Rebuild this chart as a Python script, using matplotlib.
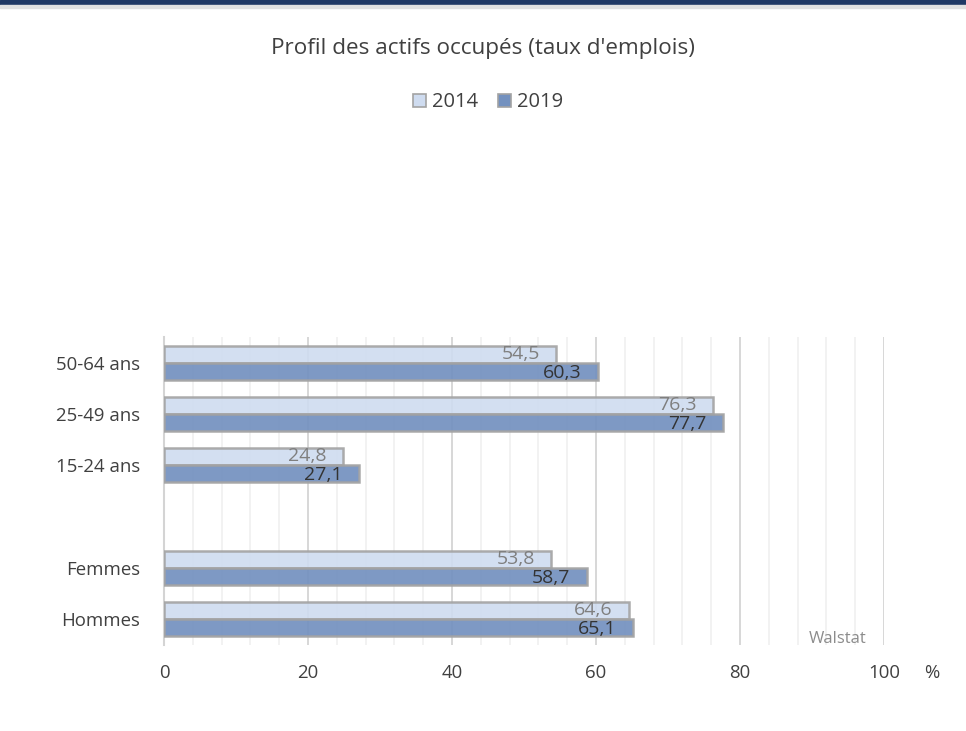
import matplotlib.pyplot as plt
from matplotlib.patches import Rectangle
from matplotlib.ticker import MultipleLocator

plt.rcParams['font.family'] = ['Open Sans', 'DejaVu Sans']

categories = ["50-64 ans", "25-49 ans", "15-24 ans", "", "Femmes", "Hommes"]
val_2014 = [54.5, 76.3, 24.8, None, 53.8, 64.6]
val_2019 = [60.3, 77.7, 27.1, None, 58.7, 65.1]
labels_2014 = ["54,5", "76,3", "24,8", "", "53,8", "64,6"]
labels_2019 = ["60,3", "77,7", "27,1", "", "58,7", "65,1"]

c2014 = "#cfdcf0"
c2019 = "#7391bf"
edge = "#a3a3a3"

fig = plt.figure(figsize=(9.66, 7.31), dpi=100)
ax = fig.add_axes([0.1698, 0.1176, 0.7453, 0.4214])

# top border of the original frame
fig.patches.append(Rectangle((0, 0.995), 1, 0.005, transform=fig.transFigure,
                             color="#1f3864", zorder=5))
fig.patches.append(Rectangle((0, 0.989), 1, 0.004, transform=fig.transFigure,
                             color="#e0e0e0", zorder=5))

h = 0.33
for i, cat in enumerate(categories):
    if val_2014[i] is None:
        continue
    ax.barh(i - h / 2, val_2014[i], height=h, color=c2014, edgecolor=edge,
            linewidth=1.8, alpha=0.9, zorder=3)
    ax.barh(i + h / 2, val_2019[i], height=h, color=c2019, edgecolor=edge,
            linewidth=1.8, alpha=0.92, zorder=3)
    ax.text(val_2014[i] - 2.3, i - h / 2 - 0.01, labels_2014[i], ha="right",
            va="center", fontsize=14, color="#7f7f7f", zorder=4)
    ax.text(val_2019[i] - 2.3, i + h / 2 + 0.03, labels_2019[i], ha="right",
            va="center", fontsize=14, color="#333333", zorder=4)

ax.set_ylim(5.5, -0.5)
ax.set_xlim(0, 100)
ax.set_yticks(range(len(categories)))
ax.set_yticklabels(categories)
ax.xaxis.set_major_locator(MultipleLocator(20))
ax.xaxis.set_minor_locator(MultipleLocator(4))
ax.grid(axis="x", which="major", color="#d4d4d4", linewidth=1.3, zorder=0)
ax.grid(axis="x", which="minor", color="#efefef", linewidth=1.1, zorder=0)
ax.set_axisbelow(True)
ax.tick_params(axis="both", which="both", length=0, labelsize=13.4,
               labelcolor="#404040")
ax.tick_params(axis="y", pad=17)
ax.tick_params(axis="x", pad=14)
for s in ["top", "right", "bottom"]:
    ax.spines[s].set_visible(False)
ax.spines["left"].set_color("#d4d4d4")
ax.spines["left"].set_linewidth(1.5)

ax.text(93.6, 5.53, "Walstat", ha="center", va="bottom", fontsize=12,
        color="#8c8c8c")
fig.text(0.965, 0.08, "%", ha="center", va="center", fontsize=13.4,
         color="#404040")

fig.text(0.5, 0.934, "Profil des actifs occupés (taux d'emplois)", ha="center",
         va="center", fontsize=16.2, color="#404040")

handles = [Rectangle((0, 0), 1, 1, facecolor=c2014, edgecolor=edge, linewidth=1.2),
           Rectangle((0, 0), 1, 1, facecolor=c2019, edgecolor=edge, linewidth=1.2)]
fig.legend(handles, ["2014", "2019"], loc="center", bbox_to_anchor=(0.505, 0.86),
           ncol=2, frameon=False, fontsize=14.5, handlelength=0.65,
           handleheight=0.65, handletextpad=0.3, columnspacing=1.0,
           labelcolor="#404040")

fig.savefig("out.png", dpi=100)
